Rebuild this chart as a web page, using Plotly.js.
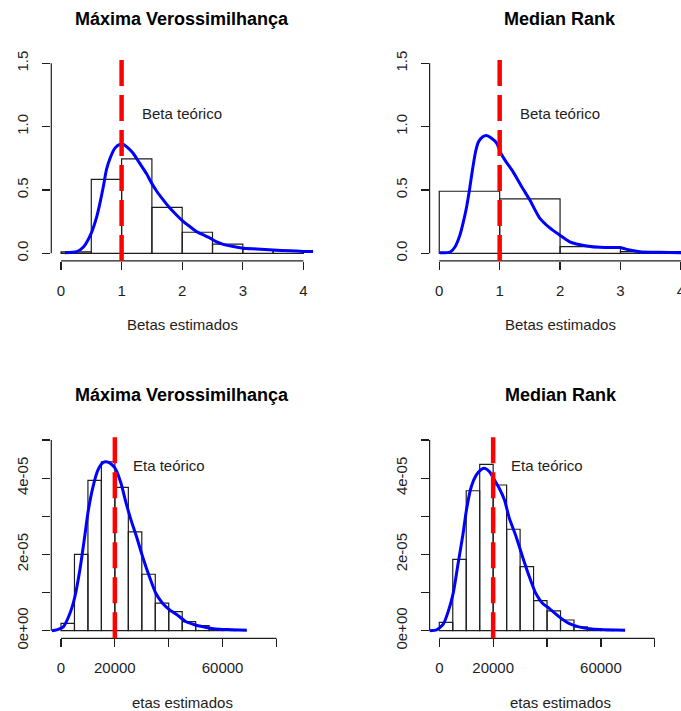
<!DOCTYPE html>
<html><head><meta charset="utf-8">
<script src="https://cdn.plot.ly/plotly-3.0.1.min.js"></script>
<style>html,body{margin:0;padding:0;background:#fff}#chart{width:681px;height:711px}</style>
</head><body><div id="chart"></div>
<script>
// ---------- data ----------
const betaMVBreaks = [0, 0.5, 1, 1.5, 2, 2.5, 3, 3.5, 4];
const betaMVDensity = [0.012, 0.584, 0.745, 0.363, 0.166, 0.073, 0.03, 0.02];
const betaMRBreaks = [0, 1, 2, 3, 4];
const betaMRDensity = [0.49, 0.43, 0.052, 0.014];

const etaBreaks = [0, 5000, 10000, 15000, 20000, 25000, 30000, 35000, 40000, 45000, 50000, 55000, 60000, 65000];
const etaMVDensity = [0.19e-5, 2.0e-5, 3.94e-5, 4.43e-5, 3.76e-5, 2.59e-5, 1.48e-5, 0.72e-5, 0.50e-5, 0.236e-5, 0.13e-5, 0.05e-5, 0.02e-5];
const etaMRDensity = [0.22e-5, 1.87e-5, 3.67e-5, 4.36e-5, 3.82e-5, 2.66e-5, 1.68e-5, 0.79e-5, 0.52e-5, 0.28e-5, 0.10e-5, 0.05e-5, 0.02e-5];

const betaMVKdeX = [0.066, 0.26, 0.37, 0.5, 0.59, 0.64, 0.70, 0.75, 0.81, 0.89, 0.97, 1.03, 1.11, 1.19, 1.30, 1.41, 1.50, 1.58, 1.69, 1.80, 1.91, 2.02, 2.13, 2.24, 2.35, 2.46, 2.57, 2.68, 2.84, 3.01, 3.23, 3.50, 3.78, 4.0, 4.2];
const betaMVKdeY = [0.005, 0.013, 0.05, 0.16, 0.29, 0.39, 0.53, 0.66, 0.75, 0.83, 0.86, 0.86, 0.83, 0.79, 0.71, 0.63, 0.55, 0.49, 0.42, 0.355, 0.30, 0.25, 0.21, 0.17, 0.145, 0.12, 0.09, 0.07, 0.053, 0.04, 0.034, 0.026, 0.02, 0.015, 0.013];

const betaMRKdeX = [0.01, 0.18, 0.26, 0.34, 0.40, 0.45, 0.50, 0.55, 0.60, 0.65, 0.72, 0.78, 0.86, 0.95, 1.02, 1.11, 1.22, 1.36, 1.50, 1.66, 1.83, 1.99, 2.16, 2.27, 2.44, 2.66, 2.99, 3.15, 3.32, 3.65, 3.99, 4.2];
const betaMRKdeY = [0.005, 0.01, 0.05, 0.14, 0.25, 0.36, 0.50, 0.66, 0.80, 0.88, 0.92, 0.93, 0.91, 0.87, 0.79, 0.72, 0.645, 0.53, 0.42, 0.28, 0.20, 0.145, 0.09, 0.074, 0.058, 0.047, 0.045, 0.026, 0.013, 0.008, 0.005, 0.004];

const etaMVKdeX = [-3400, -1600, 860, 3300, 5150, 7000, 8800, 10060, 11900, 13700, 15600, 16800, 18650, 20500, 22300, 24200, 26000, 27850, 30300, 32800, 35200, 37700, 40100, 43200, 46300, 49900, 53600, 57300, 63400, 69000];
const etaMVKdeY = [0, 0.02e-5, 0.1e-5, 0.45e-5, 0.89e-5, 1.59e-5, 2.47e-5, 3.12e-5, 3.78e-5, 4.21e-5, 4.41e-5, 4.43e-5, 4.37e-5, 4.21e-5, 3.86e-5, 3.34e-5, 2.90e-5, 2.51e-5, 1.94e-5, 1.42e-5, 0.98e-5, 0.72e-5, 0.56e-5, 0.41e-5, 0.24e-5, 0.15e-5, 0.09e-5, 0.044e-5, 0.026e-5, 0.01e-5];

const etaMRKdeX = [-3700, -1000, 1470, 3300, 5150, 7000, 8830, 10060, 11900, 13700, 15600, 16800, 18650, 20500, 22300, 24200, 26000, 28500, 30900, 33400, 35800, 38300, 40700, 44400, 48100, 51800, 56700, 61600, 69000];
const etaMRKdeY = [0, 0.02e-5, 0.17e-5, 0.5e-5, 0.98e-5, 1.77e-5, 2.55e-5, 3.16e-5, 3.78e-5, 4.08e-5, 4.23e-5, 4.26e-5, 4.17e-5, 3.95e-5, 3.73e-5, 3.43e-5, 2.95e-5, 2.47e-5, 1.94e-5, 1.42e-5, 0.98e-5, 0.72e-5, 0.59e-5, 0.37e-5, 0.19e-5, 0.10e-5, 0.044e-5, 0.026e-5, 0.01e-5];

const betaTeorico = 1;
const etaTeorico = 20000;

const betaXTicks = [0, 1, 2, 3, 4];
const betaXTickText = ['0', '1', '2', '3', '4'];
const betaYTicks = [0, 0.5, 1, 1.5];
const betaYTickText = ['0.0', '0.5', '1.0', '1.5'];
const etaXTicks = [0, 20000, 40000, 60000, 80000];
const etaXTickText = ['0', '20000', '', '60000', ''];
const etaYTicks = [0, 1e-5, 2e-5, 3e-5, 4e-5, 5e-5];
const etaYTickText = ['0e+00', '', '2e-05', '', '4e-05', ''];

const betaXlim = [0, 4], betaYlim = [0, 1.5];
const etaXlim = [0, 90000], etaYlim = [0, 5e-5];

const titles = ['Máxima Verossimilhança', 'Median Rank', 'Máxima Verossimilhança', 'Median Rank'];
const xTitles = ['Betas estimados', 'Betas estimados', 'etas estimados', 'etas estimados'];
const labelText = ['Beta teórico', 'Beta teórico', 'Eta teórico', 'Eta teórico'];
const labelPos = [[2, 1.1], [2, 1.1], [40000, 4.33e-5], [40000, 4.33e-5]];

// ---------- layout helpers ----------
const W = 681, H = 711;
const FONT = 'Liberation Sans, Arial, sans-serif';
const INK = '#1e1e1e';
function ext(l) { const d = (l[1] - l[0]) * 0.04; return [l[0] - d, l[1] + d]; }

const leftDom = [51.3 / W, 313.1 / W];
const rightDom = [429.6 / W, 1];
const topDom = [1 - 260.9 / H, 1 - 55.7 / H];
const botDom = [1 - 638.3 / H, 1 - 432.4 / H];

// right panels are cut by the picture edge: visible range ends where the page ends
function cutRange(full, dom, ticks) {
  const fullW = leftDom[1] - leftDom[0];
  const frac = (dom[1] - dom[0]) / fullW;
  let end = full[0] + (full[1] - full[0]) * frac;
  const last = ticks[ticks.length - 1];
  const span = full[1] - full[0];
  // a tick sitting right at the cut edge stays (half-)visible, as in the picture
  if (end < last && last - end < 0.01 * span) end = last + 0.0005 * span;
  return [full[0], end];
}

const panels = [
  {bx: betaMVBreaks, bd: betaMVDensity, kx: betaMVKdeX, ky: betaMVKdeY, th: betaTeorico,
   xt: betaXTicks, xtt: betaXTickText, yt: betaYTicks, ytt: betaYTickText, xl: betaXlim, yl: betaYlim, xd: leftDom, yd: topDom},
  {bx: betaMRBreaks, bd: betaMRDensity, kx: betaMRKdeX, ky: betaMRKdeY, th: betaTeorico,
   xt: betaXTicks, xtt: betaXTickText, yt: betaYTicks, ytt: betaYTickText, xl: betaXlim, yl: betaYlim, xd: rightDom, yd: topDom},
  {bx: etaBreaks, bd: etaMVDensity, kx: etaMVKdeX, ky: etaMVKdeY, th: etaTeorico,
   xt: etaXTicks, xtt: etaXTickText, yt: etaYTicks, ytt: etaYTickText, xl: etaXlim, yl: etaYlim, xd: leftDom, yd: botDom},
  {bx: etaBreaks, bd: etaMRDensity, kx: etaMRKdeX, ky: etaMRKdeY, th: etaTeorico,
   xt: etaXTicks, xtt: etaXTickText, yt: etaYTicks, ytt: etaYTickText, xl: etaXlim, yl: etaYlim, xd: rightDom, yd: botDom}
];

const traces = [];
const shapes = [];
const annotations = [];
const layout = {
  width: W, height: H, margin: {l: 0, r: 0, t: 0, b: 0},
  paper_bgcolor: '#fff', plot_bgcolor: 'rgba(0,0,0,0)', showlegend: false,
  font: {family: FONT, color: INK}
};

panels.forEach((p, i) => {
  const n = i === 0 ? '' : String(i + 1);
  const xa = 'x' + n, ya = 'y' + n;
  const mids = p.bd.map((_, k) => (p.bx[k] + p.bx[k + 1]) / 2);
  const widths = p.bd.map((_, k) => p.bx[k + 1] - p.bx[k]);
  traces.push({type: 'bar', x: mids, y: p.bd, width: widths, xaxis: xa, yaxis: ya,
    marker: {color: 'rgba(0,0,0,0)', line: {color: INK, width: 1.2}}, hoverinfo: 'skip'});
  traces.push({type: 'scatter', mode: 'lines', x: p.kx, y: p.ky, xaxis: xa, yaxis: ya,
    line: {color: '#0000FF', width: 3, shape: 'spline', smoothing: 0.6}, hoverinfo: 'skip'});

  const fullX = ext(p.xl);
  const xr = p.xd[1] >= 1 ? cutRange(fullX, p.xd, p.xt) : fullX;
  layout['xaxis' + n] = {domain: p.xd, range: xr, anchor: ya, showgrid: false, zeroline: false, showline: false,
    ticks: 'outside', ticklen: 8, tickwidth: 1.2, tickcolor: INK, tickmode: 'array', tickvals: p.xt, ticktext: p.xtt,
    tickfont: {family: FONT, size: 15, color: INK}, ticklabelstandoff: 8, ticklabeloverflow: 'allow', fixedrange: true};
  layout['yaxis' + n] = {domain: p.yd, range: ext(p.yl), anchor: xa, showgrid: false, zeroline: false, showline: false,
    ticks: 'outside', ticklen: 8, tickwidth: 1.2, tickcolor: INK, tickmode: 'array', tickvals: p.yt, ticktext: p.ytt,
    tickangle: -90, tickfont: {family: FONT, size: 15, color: INK}, ticklabelstandoff: 8, fixedrange: true};

  // R-style axis lines spanning first to last tick
  shapes.push({type: 'line', xref: xa, yref: ya + ' domain', x0: p.xt[0], x1: p.xt[p.xt.length - 1], y0: 0, y1: 0,
    line: {color: INK, width: 1.2}});
  shapes.push({type: 'line', xref: xa + ' domain', yref: ya, x0: 0, x1: 0, y0: p.yt[0], y1: p.yt[p.yt.length - 1],
    line: {color: INK, width: 1.2}});
  // theoretical value
  shapes.push({type: 'line', xref: xa, yref: ya + ' domain', x0: p.th, x1: p.th, y0: 0, y1: 1,
    line: {color: '#FF0000', width: 4.5, dash: '26px,9px'}, layer: 'above'});

  const midX = (p.xl[0] + p.xl[1]) / 2;
  annotations.push({xref: xa, yref: ya + ' domain', x: midX, y: 1, yshift: 37, showarrow: false,
    text: '<b>' + titles[i] + '</b>', font: {family: FONT, size: 18, color: '#000'}, xanchor: 'center', yanchor: 'middle'});
  annotations.push({xref: xa, yref: ya + ' domain', x: midX, y: 0, yshift: -64, showarrow: false,
    text: xTitles[i], font: {family: FONT, size: 15, color: INK}, xanchor: 'center', yanchor: 'middle'});
  annotations.push({xref: xa, yref: ya, x: labelPos[i][0], y: labelPos[i][1], showarrow: false,
    text: labelText[i], font: {family: FONT, size: 15, color: INK}, xanchor: 'center', yanchor: 'middle'});
});

layout.shapes = shapes;
layout.annotations = annotations;

Plotly.newPlot('chart', traces, layout, {displayModeBar: false, staticPlot: true});
</script>
</body></html>
